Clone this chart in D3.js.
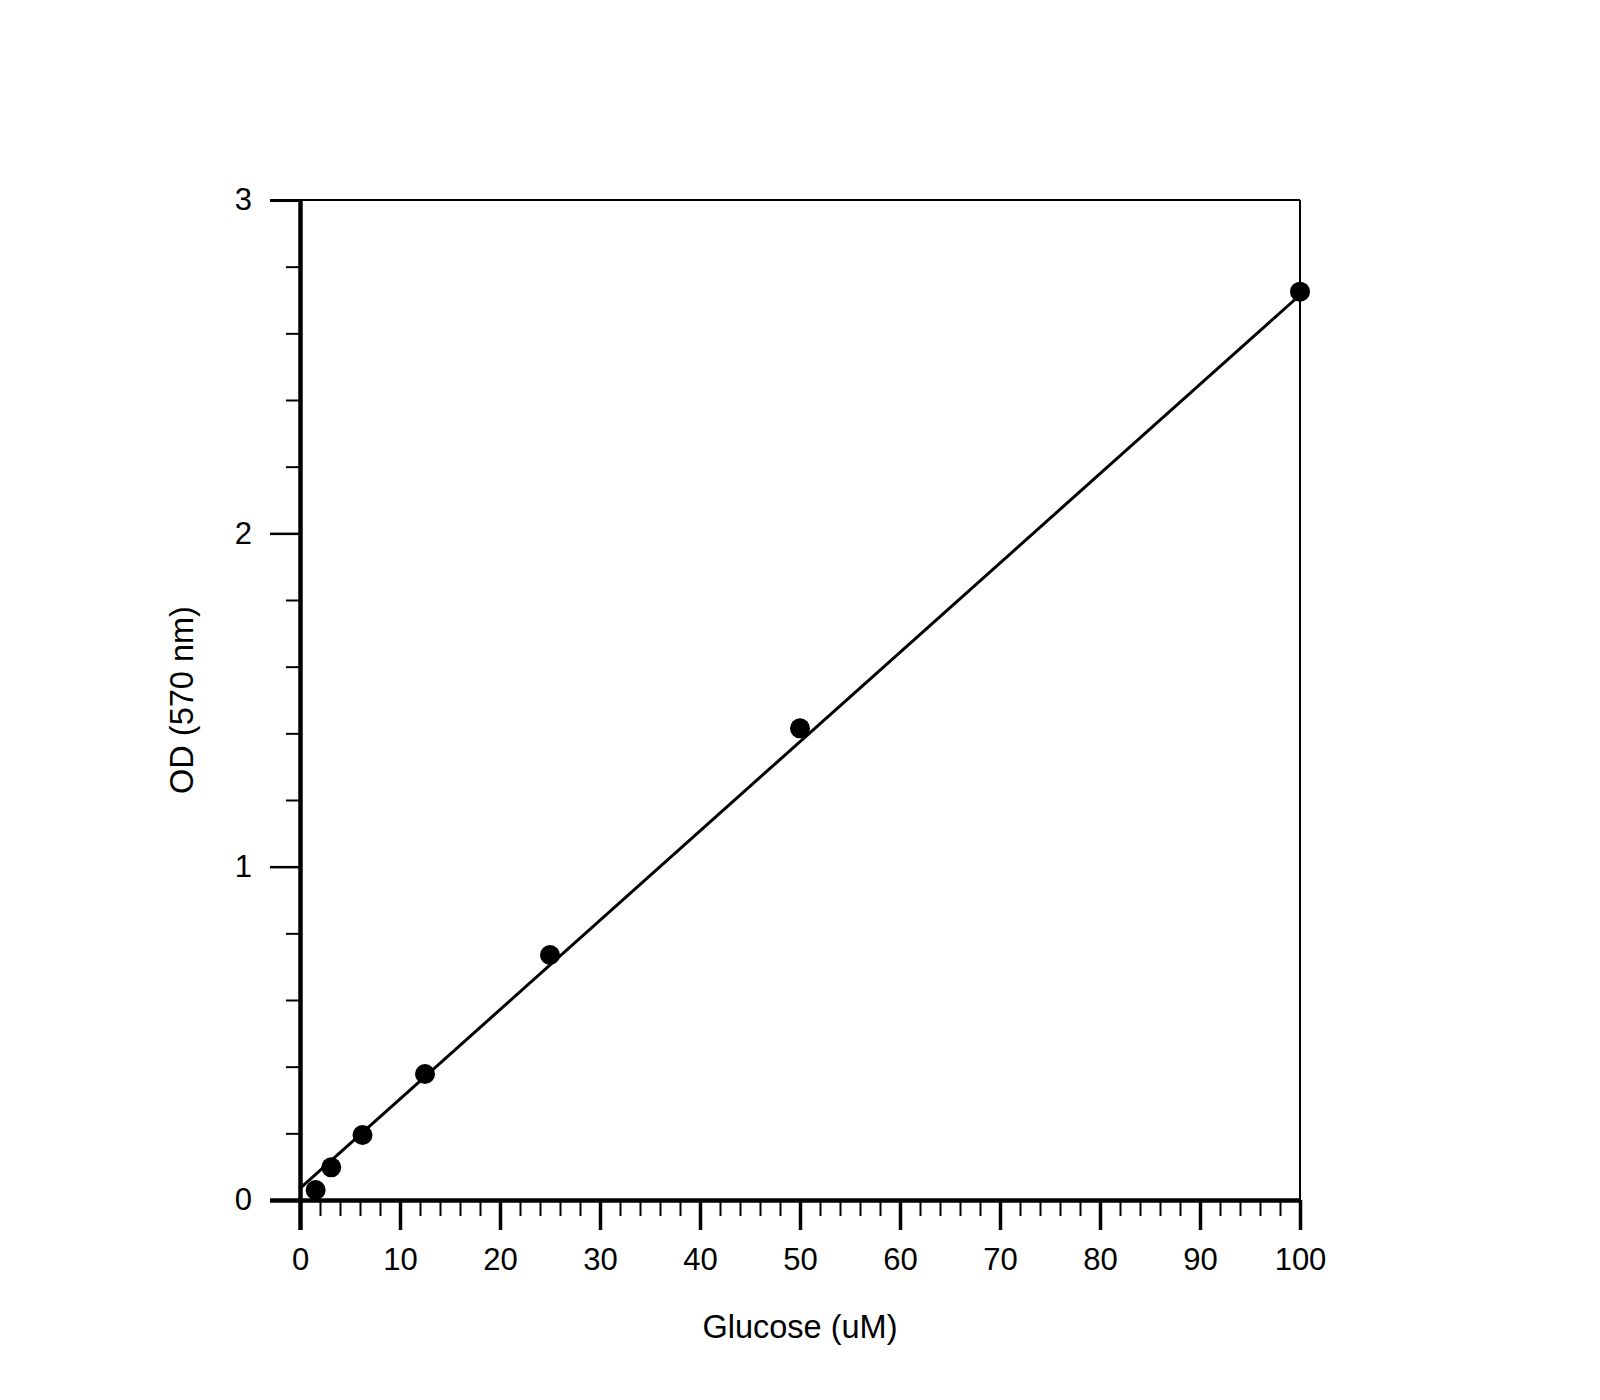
<!DOCTYPE html>
<html>
<head>
<meta charset="utf-8">
<script src="https://cdn.jsdelivr.net/npm/d3@7"></script>
<style>
  body { margin: 0; background: #fff; }
  text { font-family: "Liberation Sans", Arial, sans-serif; fill: #000; }
</style>
</head>
<body>
<div id="chart"></div>
<script>
// data
const glucose = [1.5625, 3.125, 6.25, 12.5, 25, 50, 100];
const od = [0.03, 0.098, 0.195, 0.378, 0.735, 1.415, 2.725];
// fitted line endpoints
const fitX = [0, 100];
const fitY = [0.035, 2.715];
const xTicks = [0, 10, 20, 30, 40, 50, 60, 70, 80, 90, 100];
const yTicks = [0, 1, 2, 3];

const width = 1600;
const height = 1400;
const margin = { top: 200, right: 300, bottom: 200, left: 300 };

const svg = d3.select("#chart")
    .append("svg")
    .attr("width", width)
    .attr("height", height);

svg.append("rect").attr("width", width).attr("height", height).attr("fill", "#fff");

const x = d3.scaleLinear().domain([0, 100]).range([margin.left, width - margin.right]);
const y = d3.scaleLinear().domain([0, 3]).range([height - margin.bottom, margin.top]);

// frame: thin top & right
svg.append("line")
    .attr("x1", x(0)).attr("x2", x(100)).attr("y1", y(3)).attr("y2", y(3))
    .attr("stroke", "#000").attr("stroke-width", 2);
svg.append("line")
    .attr("x1", x(100)).attr("x2", x(100)).attr("y1", y(3)).attr("y2", y(0))
    .attr("stroke", "#000").attr("stroke-width", 2);

// minor ticks
const xMinor = d3.range(0, 101, 2).filter(d => d % 10 !== 0);
const yMinor = d3.range(0, 3.01, 0.2).map(d => +d.toFixed(1)).filter(d => d % 1 !== 0);

svg.append("g")
    .attr("transform", `translate(0,${y(0)})`)
    .call(d3.axisBottom(x).tickValues(xMinor).tickSize(16).tickFormat(""))
    .call(g => g.select(".domain").remove())
    .call(g => g.selectAll(".tick line").attr("stroke-width", 2));

svg.append("g")
    .attr("transform", `translate(${x(0)},0)`)
    .call(d3.axisLeft(y).tickValues(yMinor).tickSize(14).tickFormat(""))
    .call(g => g.select(".domain").remove())
    .call(g => g.selectAll(".tick line").attr("stroke-width", 2));

// major axes
const xAxis = svg.append("g")
    .attr("transform", `translate(0,${y(0)})`)
    .call(d3.axisBottom(x).tickValues(xTicks).tickSizeInner(30).tickSizeOuter(0).tickFormat(d3.format("d")));
xAxis.select(".domain").attr("stroke-width", 4.5);
xAxis.selectAll(".tick line").attr("stroke-width", d => d === 0 ? 4.5 : 3.5);
xAxis.selectAll(".tick text").attr("font-size", 31).attr("dy", "0.71em").attr("y", 48);

const yAxis = svg.append("g")
    .attr("transform", `translate(${x(0)},0)`)
    .call(d3.axisLeft(y).tickValues(yTicks).tickSizeInner(30).tickSizeOuter(0).tickPadding(18).tickFormat(d3.format("d")));
yAxis.select(".domain").attr("stroke-width", 4.5);
yAxis.selectAll(".tick line").attr("stroke-width", d => d === 0 ? 4.5 : (d === 3 ? 3 : 2.5));
yAxis.selectAll(".tick text").attr("font-size", 31);

// axis titles
svg.append("text")
    .attr("x", x(50)).attr("y", 1338)
    .attr("text-anchor", "middle")
    .attr("font-size", 32.5)
    .text("Glucose (uM)");

svg.append("text")
    .attr("transform", `translate(193,${y(1.5)}) rotate(-90)`)
    .attr("text-anchor", "middle")
    .attr("font-size", 32.5)
    .text("OD (570 nm)");

// fitted line
const line = d3.line().x(d => x(d[0])).y(d => y(d[1]));
svg.append("path")
    .datum(fitX.map((d, i) => [d, fitY[i]]))
    .attr("d", line)
    .attr("fill", "none")
    .attr("stroke", "#000")
    .attr("stroke-width", 3);

// points
svg.selectAll(".pt")
    .data(glucose.map((d, i) => [d, od[i]]))
    .enter().append("circle")
    .attr("class", "pt")
    .attr("cx", d => x(d[0]))
    .attr("cy", d => y(d[1]))
    .attr("r", 10)
    .attr("fill", "#000");
</script>
</body>
</html>
